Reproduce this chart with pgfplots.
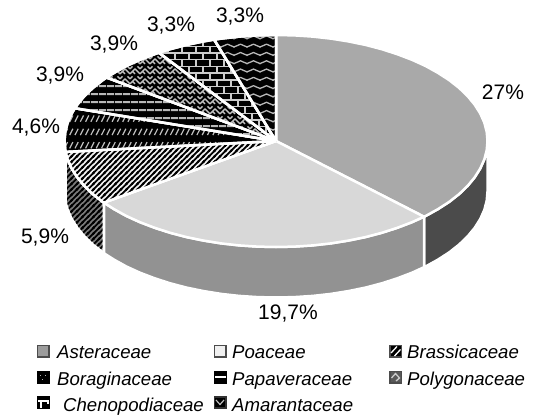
\documentclass[border=0pt]{standalone}
\usepackage{fontspec}
\setmainfont{Liberation Sans}
\usepackage{pgfplots}
\pgfplotsset{compat=1.18}
\usetikzlibrary{patterns}
\pgfdeclarepatternformonly{wavepat}{\pgfqpoint{-1pt}{-1pt}}{\pgfqpoint{14pt}{9.3pt}}{\pgfqpoint{13pt}{8.3pt}}{
  \pgfsetlinewidth{1.3pt}
  \pgfpathmoveto{\pgfqpoint{-0.5pt}{2.5pt}}
  \pgfpathcurveto{\pgfqpoint{3.25pt}{2.5pt}}{\pgfqpoint{3.25pt}{5.5pt}}{\pgfqpoint{6.5pt}{5.5pt}}
  \pgfpathcurveto{\pgfqpoint{9.75pt}{5.5pt}}{\pgfqpoint{9.75pt}{2.5pt}}{\pgfqpoint{13.5pt}{2.5pt}}
  \pgfusepath{stroke}}
\pgfdeclarepatternformonly{brickpat}{\pgfqpoint{-1pt}{-1pt}}{\pgfqpoint{15pt}{14.4pt}}{\pgfqpoint{14pt}{13.4pt}}{
  \pgfsetlinewidth{1.4pt}
  \pgfpathmoveto{\pgfqpoint{0pt}{0pt}}\pgfpathlineto{\pgfqpoint{14pt}{0pt}}
  \pgfpathmoveto{\pgfqpoint{0pt}{6.7pt}}\pgfpathlineto{\pgfqpoint{14pt}{6.7pt}}
  \pgfpathmoveto{\pgfqpoint{0pt}{0pt}}\pgfpathlineto{\pgfqpoint{0pt}{6.7pt}}
  \pgfpathmoveto{\pgfqpoint{7pt}{6.7pt}}\pgfpathlineto{\pgfqpoint{7pt}{13.4pt}}
  \pgfusepath{stroke}}
\pgfdeclarepatternformonly{dashpat}{\pgfqpoint{-1pt}{-1pt}}{\pgfqpoint{6.3pt}{14.3pt}}{\pgfqpoint{5.3pt}{13.3pt}}{
  \pgfsetlinewidth{1.2pt}
  \pgfpathmoveto{\pgfqpoint{0.8pt}{0.5pt}}\pgfpathlineto{\pgfqpoint{4pt}{6.8pt}}
  \pgfusepath{stroke}}
\pgfdeclarepatternformonly{weavepat}{\pgfqpoint{-1pt}{-1pt}}{\pgfqpoint{11pt}{11pt}}{\pgfqpoint{10pt}{10pt}}{
  \pgfsetlinewidth{1.5pt}
  \pgfpathmoveto{\pgfqpoint{0pt}{1pt}}\pgfpathlineto{\pgfqpoint{5pt}{6pt}}\pgfpathlineto{\pgfqpoint{10pt}{1pt}}
  \pgfpathmoveto{\pgfqpoint{0pt}{6pt}}\pgfpathlineto{\pgfqpoint{2.5pt}{8.5pt}}
  \pgfpathmoveto{\pgfqpoint{7.5pt}{8.5pt}}\pgfpathlineto{\pgfqpoint{10pt}{6pt}}
  \pgfpathmoveto{\pgfqpoint{2.5pt}{3.5pt}}\pgfpathlineto{\pgfqpoint{5pt}{1pt}}
  \pgfusepath{stroke}}
\pgfdeclarepatternformonly{stripepat}{\pgfqpoint{-1pt}{-1pt}}{\pgfqpoint{6.5pt}{6.5pt}}{\pgfqpoint{5.5pt}{5.5pt}}{
  \pgfsetlinewidth{1.9pt}
  \pgfpathmoveto{\pgfqpoint{-1pt}{-1pt}}\pgfpathlineto{\pgfqpoint{6.5pt}{6.5pt}}
  \pgfpathmoveto{\pgfqpoint{-1pt}{4.5pt}}\pgfpathlineto{\pgfqpoint{1pt}{6.5pt}}
  \pgfpathmoveto{\pgfqpoint{4.5pt}{-1pt}}\pgfpathlineto{\pgfqpoint{6.5pt}{1pt}}
  \pgfusepath{stroke}}
\pgfdeclarepatternformonly{barpat}{\pgfqpoint{0pt}{0pt}}{\pgfqpoint{7.5pt}{7.5pt}}{\pgfqpoint{7.5pt}{7.5pt}}{
  \pgfpathrectangle{\pgfqpoint{0pt}{2pt}}{\pgfqpoint{7.5pt}{2pt}}
  \pgfusepath{fill}}
\definecolor{ast}{HTML}{A9A9A9}
\definecolor{astS}{HTML}{4B4B4B}
\definecolor{poa}{HTML}{D8D8D8}
\definecolor{poaS}{HTML}{929292}
\tikzset{
  wedge/.style={draw=white, line width=2.5pt, line join=bevel, mark=none},
  lab/.style={font=\fontsize{21}{23}\selectfont, text=black, inner sep=0pt, anchor=center},
  leg/.style={font=\fontsize{18.6}{20}\selectfont\itshape, text=black, inner sep=0pt, anchor=base west},
  key/.style={draw=black!70, line width=1.1pt, mark=none},
  mk/.style={draw=white, line width=1.3pt, mark=none},
}
\begin{document}
\begin{tikzpicture}
\begin{axis}[
  scale only axis, width=535pt, height=413pt,
  xmin=0, xmax=535, ymin=0, ymax=413, y dir=reverse,
  axis lines=none, clip=false,
]
\path (axis cs:0,0) rectangle (axis cs:535,413);
% ---------- side walls
\addplot[wedge, fill=astS] coordinates {(487.5,141) (486.7,150.2) (484.3,159.4) (480.3,168.4) (474.7,177.3) (467.7,185.8) (459.2,194) (449.3,201.8) (438,209.1) (425.6,216) (424,216.7)
 (424,267.2) (425.6,266.5) (438,259.6) (449.3,252.3) (459.2,244.5) (467.7,236.3) (474.7,227.8) (480.3,218.9) (484.3,209.9) (486.7,200.7) (487.5,191.5)} -- cycle;
\addplot[wedge, fill=poaS] coordinates {(424,216.7) (412,222.2) (397.3,227.8) (381.8,232.8) (365.4,237.1) (348.3,240.6) (330.7,243.4) (312.7,245.4) (294.4,246.6) (276,247) (257.6,246.6) (239.3,245.4) (221.3,243.4) (203.7,240.6) (186.6,237.1) (170.2,232.8) (154.7,227.8) (140,222.2) (126.4,216) (114,209.1) (103.8,202.6)
 (103.8,253.1) (114,259.6) (126.4,266.5) (140,272.7) (154.7,278.3) (170.2,283.3) (186.6,287.6) (203.7,291.1) (221.3,293.9) (239.3,295.9) (257.6,297.1) (276,297.5) (294.4,297.1) (312.7,295.9) (330.7,293.9) (348.3,291.1) (365.4,287.6) (381.8,283.3) (397.3,278.3) (412,272.7) (424,267.2)} -- cycle;
\addplot[wedge, preaction={fill=black!52}, pattern=stripepat, pattern color=black] coordinates {(103.8,202.6) (102.7,201.8) (92.8,194) (84.3,185.8) (77.3,177.3) (71.7,168.4) (67.7,159.4) (65.6,151.9)
 (65.6,202.4) (67.7,209.9) (71.7,218.9) (77.3,227.8) (84.3,236.3) (92.8,244.5) (102.7,252.3) (103.8,253.1)} -- cycle;
% ---------- top faces
\addplot[wedge, fill=ast] coordinates {(276,141) (276,35) (294.4,35.4) (312.7,36.6) (330.7,38.6) (348.3,41.4) (365.4,44.9) (381.8,49.2) (397.3,54.2) (412,59.8) (425.6,66) (438,72.9) (449.3,80.2) (459.2,88) (467.7,96.2) (474.7,104.7) (480.3,113.6) (484.3,122.6) (486.7,131.8) (487.5,141) (486.7,150.2) (484.3,159.4) (480.3,168.4) (474.7,177.3) (467.7,185.8) (459.2,194) (449.3,201.8) (438,209.1) (425.6,216) (424,216.7)} -- cycle;
\addplot[wedge, fill=poa] coordinates {(276,141) (424,216.7) (412,222.2) (397.3,227.8) (381.8,232.8) (365.4,237.1) (348.3,240.6) (330.7,243.4) (312.7,245.4) (294.4,246.6) (276,247) (257.6,246.6) (239.3,245.4) (221.3,243.4) (203.7,240.6) (186.6,237.1) (170.2,232.8) (154.7,227.8) (140,222.2) (126.4,216) (114,209.1) (103.8,202.6)} -- cycle;
\addplot[wedge, preaction={fill=black!6}, pattern=stripepat, pattern color=black] coordinates {(276,141) (103.8,202.6) (102.7,201.8) (92.8,194) (84.3,185.8) (77.3,177.3) (71.7,168.4) (67.7,159.4) (65.6,151.9)} -- cycle;
\addplot[wedge, preaction={fill=black}, pattern=dashpat, pattern color=black!25] coordinates {(276,141) (65.6,151.9) (65.3,150.2) (64.5,141) (65.3,131.8) (67.7,122.6) (71.7,113.6) (74.9,108.2)} -- cycle;
\addplot[wedge, preaction={fill=black}, pattern=barpat, pattern color=black!28] coordinates {(276,141) (74.9,108.2) (77.3,104.7) (84.3,96.2) (92.8,88) (102.7,80.2) (106.6,77.5)} -- cycle;
\addplot[wedge, preaction={fill=black}, pattern=weavepat, pattern color=black!25] coordinates {(276,141) (106.6,77.5) (114,72.9) (126.4,66) (140,59.8) (154.7,54.2) (159,52.7)} -- cycle;
\addplot[wedge, preaction={fill=black}, pattern=brickpat, pattern color=black!20] coordinates {(276,141) (159,52.7) (170.2,49.2) (186.6,44.9) (203.7,41.4) (214.2,39.6)} -- cycle;
\addplot[wedge, preaction={fill=black}, pattern=wavepat, pattern color=black!28] coordinates {(276,141) (214.2,39.6) (221.3,38.6) (239.3,36.6) (257.6,35.4) (276,35)} -- cycle;
% ---------- percentage labels
\node[lab] at (axis cs:503,92) {27\%};
\node[lab] at (axis cs:288,314) {19,7\%};
\node[lab] at (axis cs:45,238) {5,9\%};
\node[lab] at (axis cs:36,128) {4,6\%};
\node[lab] at (axis cs:60,76) {3,9\%};
\node[lab] at (axis cs:114,45) {3,9\%};
\node[lab] at (axis cs:171,26) {3,3\%};
\node[lab] at (axis cs:240,17) {3,3\%};
% ---------- legend keys
\addplot[key, fill=ast!115] coordinates {(37.5,345.5) (49,345.5) (49,357) (37.5,357)} -- cycle;
\addplot[key, fill=black!6] coordinates {(214.5,345.5) (226,345.5) (226,357) (214.5,357)} -- cycle;
\addplot[key, fill=black] coordinates {(390,345.5) (401.5,345.5) (401.5,357) (390,357)} -- cycle;
\addplot[mk] coordinates {(391,353) (397,346.5)};
\addplot[mk] coordinates {(394.5,356) (400.5,349.5)};
\addplot[key, draw=black, fill=black] coordinates {(37.5,371.5) (49,371.5) (49,383) (37.5,383)} -- cycle;
\addplot[mk, line width=0.8pt, draw=black!30] coordinates {(40,375) (41,375)};
\addplot[mk, line width=0.8pt, draw=black!30] coordinates {(45,375) (46,375)};
\addplot[mk, line width=0.8pt, draw=black!30] coordinates {(42,379.5) (43,379.5)};
\addplot[key, draw=black, fill=black] coordinates {(214.5,371.5) (226,371.5) (226,383) (214.5,383)} -- cycle;
\addplot[mk, line width=1.6pt] coordinates {(215,377) (225.5,377)};
\addplot[key, fill=black!65] coordinates {(390,371.5) (401.5,371.5) (401.5,383) (390,383)} -- cycle;
\addplot[mk, draw=black!20, line width=1.3pt] coordinates {(391.5,378) (395.5,373.5) (399.5,378) (396,381)};
\addplot[key, draw=black, fill=black] coordinates {(37.5,397) (49,397) (49,408) (37.5,408)} -- cycle;
\addplot[mk, line width=1.4pt] coordinates {(38,401) (48,401) (48,404)};
\addplot[mk, line width=1.4pt] coordinates {(41,401) (41,407.5)};
\addplot[key, draw=black!80, fill=black] coordinates {(214.5,397) (226,397) (226,408) (214.5,408)} -- cycle;
\addplot[mk, draw=black!25, line width=1.2pt] coordinates {(216,400) (220,404.5) (224,400)};
% ---------- legend texts
\node[leg] at (axis cs:57,358) {Asteraceae};
\node[leg] at (axis cs:232,358) {Poaceae};
\node[leg] at (axis cs:407,358) {Brassicaceae};
\node[leg] at (axis cs:57,385) {Boraginaceae};
\node[leg] at (axis cs:232,385) {Papaveraceae};
\node[leg] at (axis cs:407,385) {Polygonaceae};
\node[leg] at (axis cs:63,411) {Chenopodiaceae};
\node[leg] at (axis cs:232,411) {Amarantaceae};
\end{axis}
\end{tikzpicture}
\end{document}
